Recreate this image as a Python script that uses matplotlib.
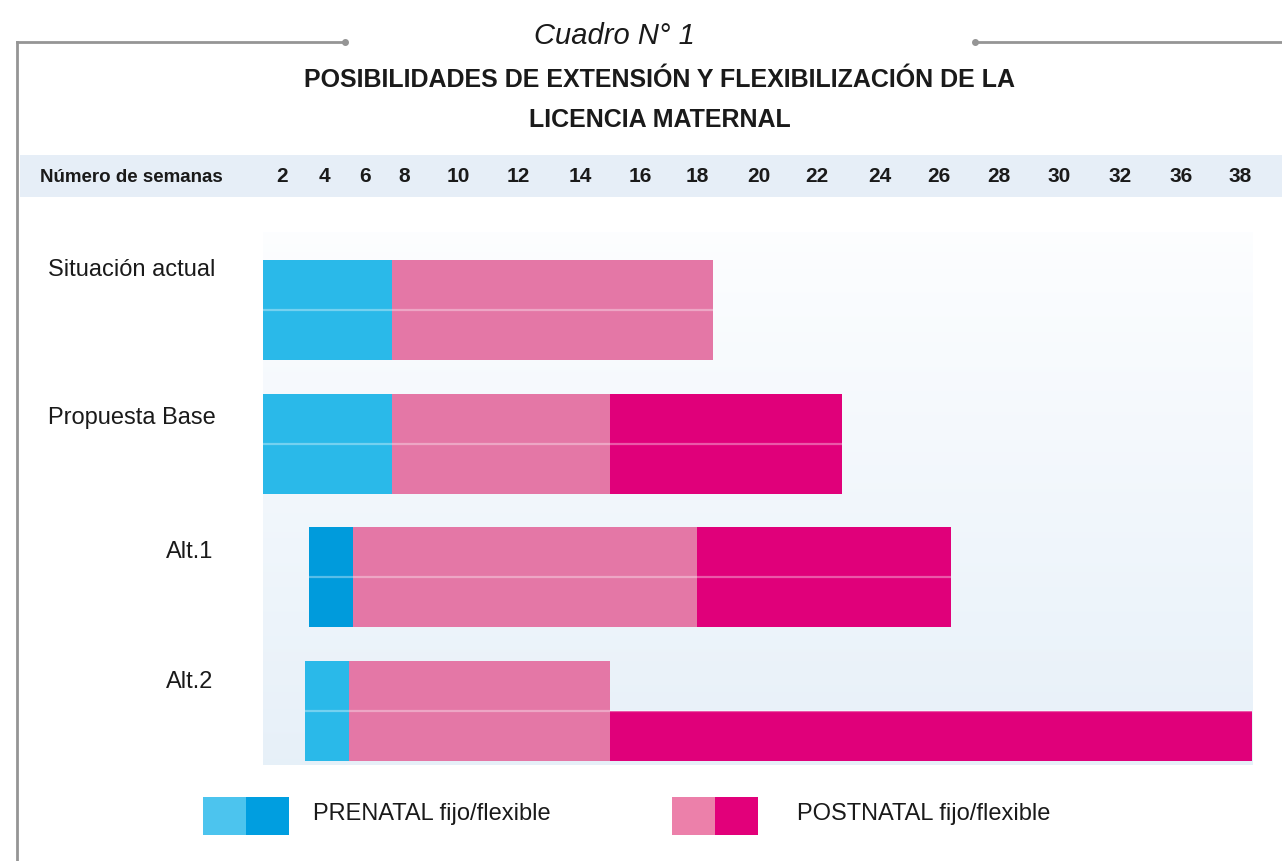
import numpy as np
import matplotlib
matplotlib.use("Agg")
import matplotlib.pyplot as plt
from matplotlib.patches import Rectangle
from matplotlib.lines import Line2D

# ---------------- data ----------------
categories = ["Situación actual", "Propuesta Base", "Alt.1", "Alt.2"]
week_ticks = [2, 4, 6, 8, 10, 12, 14, 16, 18, 20, 22, 24, 26, 28, 30, 32, 36, 38]
tick_labels = [str(w) for w in week_ticks]

# segments (start week, end week, kind) for the upper and lower row of each option
situacion_top = [(1.1, 7.4, "pre_fijo"), (7.4, 18.5, "post_fijo")]
situacion_bottom = [(1.1, 7.4, "pre_fijo"), (7.4, 18.5, "post_fijo")]
base_top = [(1.1, 7.4, "pre_fijo"), (7.4, 15.0, "post_fijo"), (15.0, 22.8, "post_flex")]
base_bottom = [(1.1, 7.4, "pre_fijo"), (7.4, 15.0, "post_fijo"), (15.0, 22.8, "post_flex")]
alt1_top = [(3.3, 5.4, "pre_flex"), (5.4, 18.0, "post_fijo"), (18.0, 26.4, "post_flex")]
alt1_bottom = [(3.3, 5.4, "pre_flex"), (5.4, 18.0, "post_fijo"), (18.0, 26.4, "post_flex")]
alt2_top = [(3.1, 5.2, "pre_fijo"), (5.2, 15.0, "post_fijo")]
alt2_bottom = [(3.1, 5.2, "pre_fijo"), (5.2, 15.0, "post_fijo"), (15.0, 38.4, "post_flex")]

rows = [(situacion_top, situacion_bottom), (base_top, base_bottom),
        (alt1_top, alt1_bottom), (alt2_top, alt2_bottom)]

legend_labels = ["PRENATAL fijo/flexible", "POSTNATAL fijo/flexible"]

# ---------------- styles ----------------
COLORS = {
    "pre_fijo": "#2ab9e9",
    "pre_flex": "#009bdc",
    "post_fijo": "#e477a6",
    "post_flex": "#e0007a",
}
LEG_PRE = ["#4cc4ee", "#009ee0"]
LEG_POST = ["#ec80aa", "#e2007a"]
FONT = ["Liberation Sans", "DejaVu Sans"]
TXT = "#1a1a1a"

W_PX, H_PX = 1282, 861
fig = plt.figure(figsize=(W_PX / 100, H_PX / 100), dpi=100)
fig.patch.set_facecolor("white")


def fx(px):
    return px / W_PX


def fy(py):
    return 1 - py / H_PX


# week -> horizontal layout mapping (the printed scale is not uniform)
SCALE_W = [0, 2, 4, 6, 8, 10, 12, 14, 16, 18, 20, 22, 24, 26, 28, 30, 32, 36, 38, 40]
SCALE_P = [240, 282, 324, 365, 404, 458, 518, 580, 640, 697, 759, 817, 880, 939,
           999, 1059, 1120, 1181, 1240, 1299]


def fwd(x):
    return np.interp(x, SCALE_W, SCALE_P)


def inv(p):
    return np.interp(p, SCALE_P, SCALE_W)


XMIN, XMAX = 0, 39.4
AX_TOP, AX_BOT = 225, 790

# ---------------- frame decoration ----------------
frame_col = "#959595"
fig.add_artist(Line2D([fx(17), fx(17)], [fy(42), fy(861)], color=frame_col, lw=2))
fig.add_artist(Line2D([fx(17), fx(345)], [fy(42), fy(42)], color=frame_col, lw=2))
fig.add_artist(Line2D([fx(975), fx(1282)], [fy(42), fy(42)], color=frame_col, lw=2))
fig.add_artist(Line2D([fx(345)], [fy(42)], marker="o", ms=4, color=frame_col))
fig.add_artist(Line2D([fx(975)], [fy(42)], marker="o", ms=4, color=frame_col))

# header band
fig.add_artist(Rectangle((fx(20), fy(197)), fx(1282) - fx(20), fy(155) - fy(197),
                         transform=fig.transFigure, facecolor="#e6eef7",
                         edgecolor="none", zorder=0))

# titles
fig.text(fx(614), fy(36), "Cuadro N° 1", ha="center", va="center", fontsize=21,
         style="italic", family=FONT, color=TXT)
fig.text(fx(660), fy(80), "POSIBILIDADES DE EXTENSIÓN Y FLEXIBILIZACIÓN DE LA",
         ha="center", va="center", fontsize=18, weight="bold", family=FONT, color=TXT)
fig.text(fx(660), fy(120), "LICENCIA MATERNAL", ha="center", va="center",
         fontsize=18, weight="bold", family=FONT, color=TXT)
fig.text(fx(40), fy(178), "Número de semanas", ha="left", va="center", fontsize=13.5,
         weight="bold", family=FONT, color=TXT)

# background gradient panel
bg = fig.add_axes([fx(263), fy(765), fx(1253) - fx(263), fy(232) - fy(765)], zorder=0)
grad = np.linspace(0, 1, 256)[:, None]
c_top = np.array([0.99, 0.994, 1.0])
c_bot = np.array([0.905, 0.942, 0.975])
img = c_top[None, None, :] * (1 - grad[..., None]) + c_bot[None, None, :] * grad[..., None]
img = np.repeat(img, 4, axis=1)
bg.imshow(img, aspect="auto", extent=[0, 1, 0, 1], origin="upper")
bg.axis("off")

# ---------------- main axes ----------------
left = fwd(XMIN)
right = fwd(XMAX)
ax = fig.add_axes([fx(left), fy(AX_BOT), fx(right) - fx(left), fy(AX_TOP) - fy(AX_BOT)],
                  zorder=1)
ax.set_xscale("function", functions=(fwd, inv))
ax.set_xlim(XMIN, XMAX)
pitch = 133.67
ax.set_ylim(3 + (AX_BOT - 711) / pitch, -(310 - AX_TOP) / pitch)
ax.patch.set_alpha(0)
for s in ax.spines.values():
    s.set_visible(False)

h = 50 / pitch
for i, (top, bottom) in enumerate(rows):
    for yc, segs in ((i - h / 2, top), (i + h / 2, bottom)):
        for (a, b, kind) in segs:
            ax.barh(yc, b - a, left=a, height=h, color=COLORS[kind],
                    edgecolor="none", linewidth=0)
    # light separator between the two rows
    for (a, b, kind) in bottom:
        ax.hlines(i, a, b, color=(1, 1, 1, 0.35), lw=1.6)

ax.xaxis.tick_top()
ax.set_xticks(week_ticks)
ax.set_xticklabels(tick_labels)
ax.tick_params(axis="x", length=0, pad=28, labelsize=15, labelcolor=TXT)
for t in ax.get_xticklabels():
    t.set_fontweight("bold")
    t.set_family(FONT)
ax.set_yticks([])
ax.minorticks_off()

# category labels
label_x = [48, 48, 166, 166]
label_dy = [-0.30, -0.195, -0.187, -0.217]
for i, cat in enumerate(categories):
    ax.annotate(cat, xy=(fx(label_x[i]), i + label_dy[i]),
                xycoords=("figure fraction", "data"), ha="left", va="center",
                fontsize=17, family=FONT, color=TXT, annotation_clip=False)


# ---------------- legend ----------------
def legend_block(x0, cols, label, tx):
    for k, c in enumerate(cols):
        fig.add_artist(Rectangle((fx(x0 + 43 * k), fy(835)), fx(43), fy(797) - fy(835),
                                 transform=fig.transFigure, facecolor=c,
                                 edgecolor="none"))
    fig.text(fx(tx), fy(814), label, ha="left", va="center", fontsize=17,
             family=FONT, color=TXT)


legend_block(203, LEG_PRE, legend_labels[0], 313)
legend_block(672, LEG_POST, legend_labels[1], 797)

fig.savefig("out.png", dpi=100, facecolor="white")
